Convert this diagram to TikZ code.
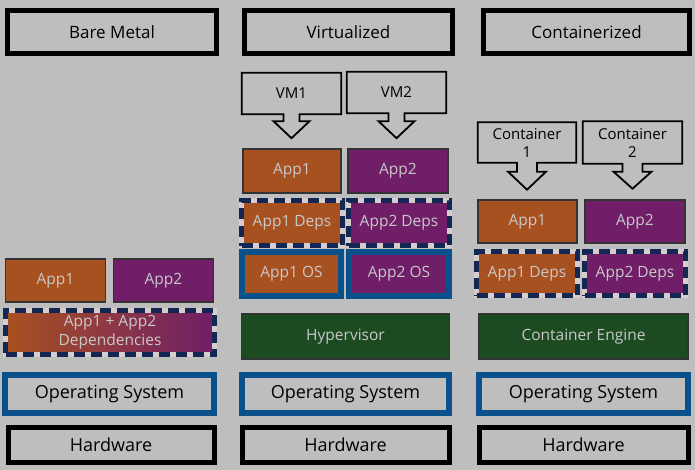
\documentclass[tikz,border=0pt]{standalone}
\usepackage{fontspec}
\setmainfont{Open Sans}
\usetikzlibrary{positioning,calc}

\definecolor{bg}{RGB}{190,190,190}
\definecolor{apporange}{RGB}{168,81,32}
\definecolor{apppurple}{RGB}{112,30,104}
\definecolor{enggreen}{RGB}{28,75,33}
\definecolor{osblue}{RGB}{10,80,138}
\definecolor{depnavy}{RGB}{20,38,82}
\definecolor{deplight}{RGB}{215,205,205}
\definecolor{txtlight}{RGB}{200,200,200}

\tikzset{
  layer/.style={draw=black, line width=5pt, fill=bg, text=black, inner sep=0pt,
    minimum width=206pt, minimum height=36pt, font=\fontsize{17}{20}\selectfont},
  osbox/.style={layer, draw=osblue, line width=6pt},
  appbox/.style={draw=black!80, line width=1.5pt, text=txtlight, inner sep=0pt,
    minimum width=100pt, minimum height=43pt, font=\fontsize{15.5}{18}\selectfont},
  enginebox/.style={appbox, fill=enggreen, minimum width=208pt, minimum height=45pt},
  depsbox/.style={appbox, draw=deplight, line width=5pt,
    postaction={draw=depnavy, line width=5pt, dash pattern=on 11pt off 6pt}},
  callout/.style={fill=bg, text=black, inner sep=0pt, minimum width=100pt,
    minimum height=42pt, align=center, font=\fontsize{15}{18}\selectfont}
}

\begin{document}
\begin{tikzpicture}[x=1pt, y=-1pt]
  \fill[bg] (0,0) rectangle (695,470);
  \useasboundingbox (0,0) rectangle (695,470);

  % column headers
  \node[layer, minimum width=209pt, minimum height=43pt] (hBare) at (112,32) {Bare Metal};
  \node[layer, minimum width=208pt, minimum height=43pt] (hVirt) at (348.5,32) {Virtualized};
  \node[layer, minimum width=206pt, minimum height=43pt] (hCont) at (586.5,32) {Containerized};

  % hardware and operating system
  \node[layer, minimum height=35pt, minimum width=206pt] (hwBare) at (111,444.5) {\fontsize{18}{20}\selectfont Hardware};
  \node[layer, minimum height=35pt, minimum width=207pt] (hwVirt) at (345.5,444.5) {\fontsize{18}{20}\selectfont Hardware};
  \node[layer, minimum height=35pt, minimum width=209pt] (hwCont) at (583.5,444.5) {\fontsize{18}{20}\selectfont Hardware};
  \node[osbox, minimum height=38pt, minimum width=209pt] (osBare) at (109.5,394) {\fontsize{18}{20}\selectfont Operating System};
  \node[osbox, minimum height=38pt, minimum width=207pt] (osVirt) at (345.5,394) {\fontsize{18}{20}\selectfont Operating System};
  \node[osbox, minimum height=38pt, minimum width=209pt] (osCont) at (583.5,394) {\fontsize{18}{20}\selectfont Operating System};

  % bare metal
  \node[appbox, fill=apporange] (bApp1) at (55.5,280.5) {App1};
  \node[appbox, fill=apppurple] (bApp2) at (163.5,280.5) {App2};
  \node[depsbox, left color=apporange, right color=apppurple, minimum width=209pt,
    minimum height=44pt, align=center, font=\fontsize{15.5}{19}\selectfont] (bDeps) at (110,332.5)
    {App1 + App2\\Dependencies};

  % virtualized
  \node[enginebox] (hyper) at (345.5,336.5) {Hypervisor};
  \node[appbox, fill=apporange, draw=osblue, line width=6pt, minimum width=99pt, minimum height=44pt] (vOS1) at (291.5,274) {App1 OS};
  \node[appbox, fill=apppurple, draw=osblue, line width=6pt, minimum width=100pt, minimum height=44pt] (vOS2) at (399,274) {App2 OS};
  \node[depsbox, fill=apporange, minimum width=101pt, minimum height=45pt] (vDeps1) at (292,223) {App1 Deps};
  \node[depsbox, fill=apppurple, minimum width=101pt, minimum height=45pt] (vDeps2) at (399,223) {App2 Deps};
  \node[appbox, fill=apporange, minimum width=98pt, minimum height=44pt] (vApp1) at (292,171) {App1};
  \node[appbox, fill=apppurple, minimum width=100pt, minimum height=44pt] (vApp2) at (398,171) {App2};
  \node[callout, minimum width=99pt, minimum height=41pt] (vm1) at (291.5,93.5) {VM1};
  \node[callout, minimum width=99pt, minimum height=41pt] (vm2) at (396.5,92.5) {VM2};

  % containerized
  \node[enginebox, minimum width=209pt] (engine) at (583.5,336.5) {Container Engine};
  \node[depsbox, fill=apporange, minimum width=101pt, minimum height=44pt] (cDeps1) at (527,273.5) {App1 Deps};
  \node[depsbox, fill=apppurple, minimum width=101pt, minimum height=44pt] (cDeps2) at (635,273.5) {App2 Deps};
  \node[appbox, fill=apporange, minimum width=99pt] (cApp1) at (527.5,221.5) {App1};
  \node[appbox, fill=apppurple, minimum width=100pt] (cApp2) at (635,221.5) {App2};
  \node[callout, minimum width=98pt, minimum height=40pt] (ct1) at (527,142.5) {Container\\1};
  \node[callout, minimum width=99pt, minimum height=42pt] (ct2) at (632.5,142.5) {Container\\2};

  % callout outlines with arrow pointing down
  \foreach \n/\a/\b/\w/\h in {vm1/7/24/8/18, vm2/8/25/8/18, ct1/9/27/10/19, ct2/8/25/10/19}{
    \draw[line width=1.8pt, line join=miter] (\n.north west) -- (\n.north east) -- (\n.south east)
      -- ($(\n.south)+(\w,0)$) -- ($(\n.south)+(\w,\a)$) -- ($(\n.south)+(\h,\a)$)
      -- ($(\n.south)+(0,\b)$) -- ($(\n.south)+(-\h,\a)$) -- ($(\n.south)+(-\w,\a)$)
      -- ($(\n.south)+(-\w,0)$) -- (\n.south west) -- cycle;
  }
\end{tikzpicture}
\end{document}
